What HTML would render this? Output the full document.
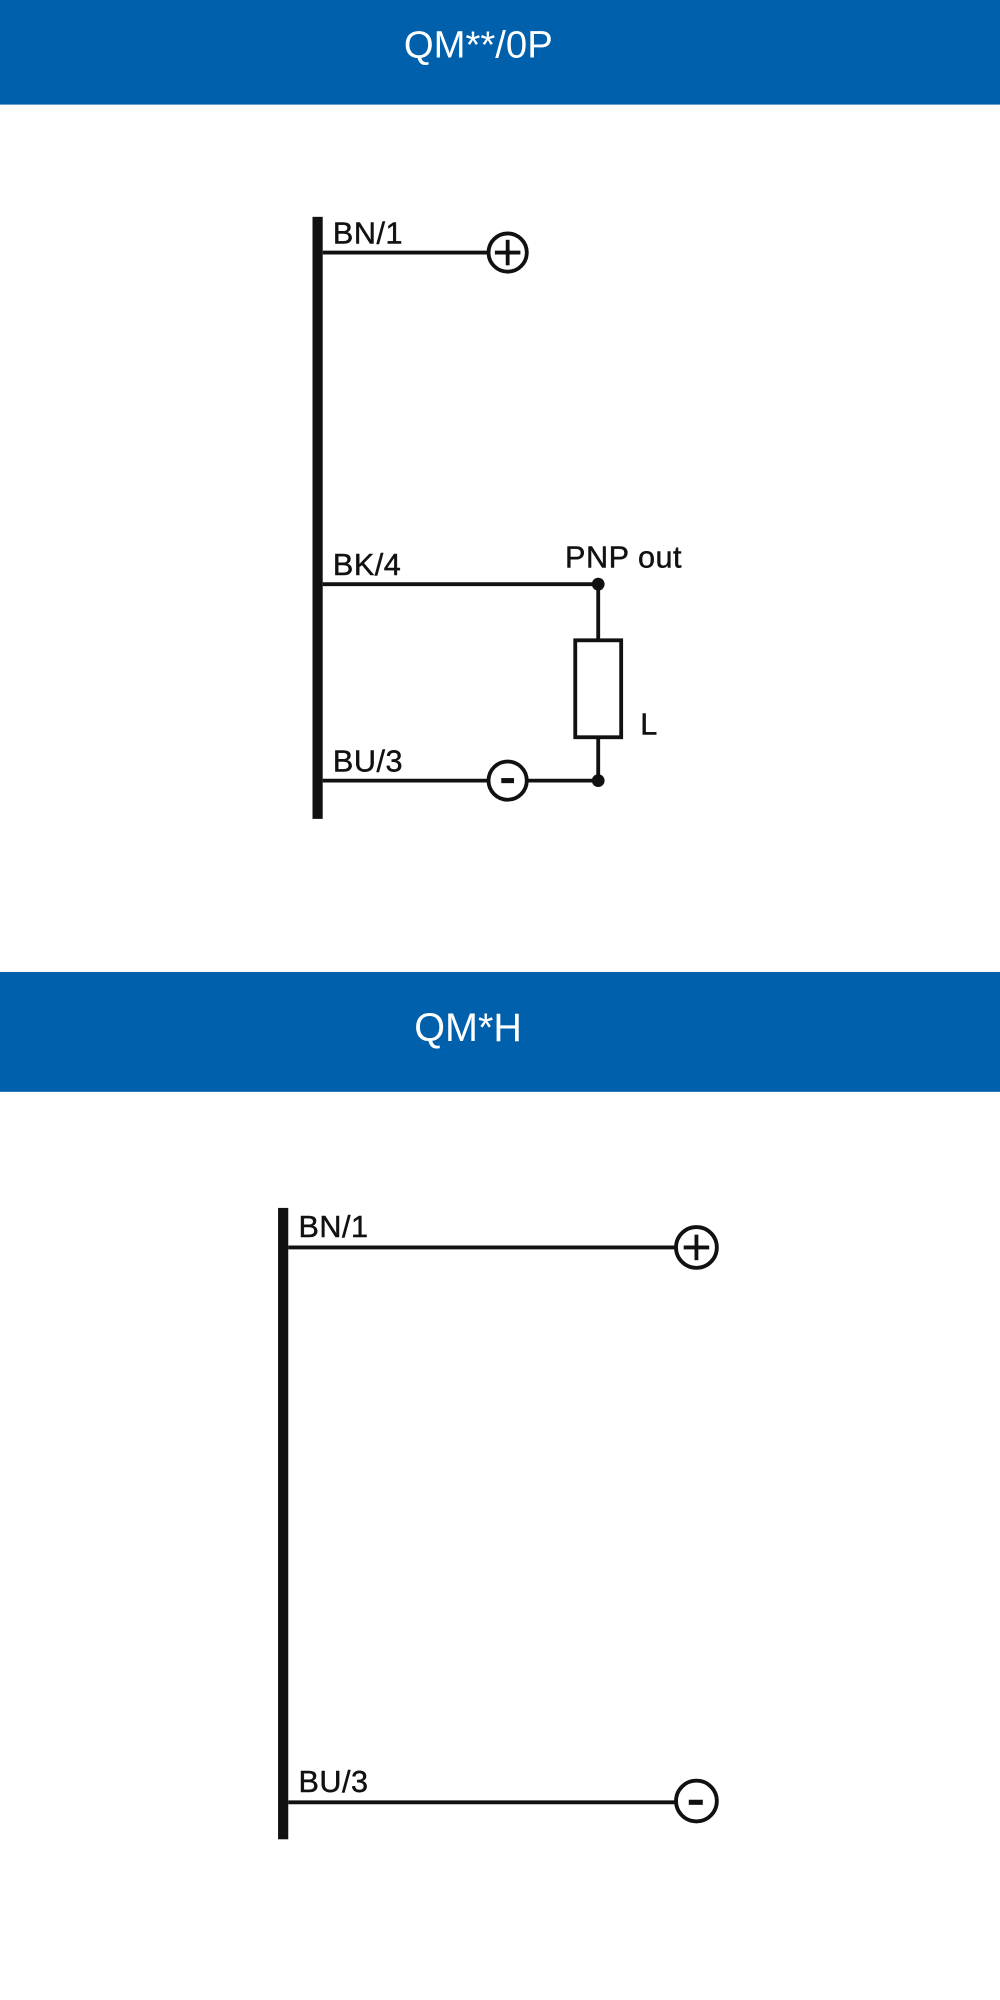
<!DOCTYPE html>
<html><head><meta charset="utf-8"><style>
html,body{margin:0;padding:0;background:#fff;}
svg{display:block;}
text{font-family:"Liberation Sans",Arial,sans-serif;fill:#111;}
.l{font-size:24px;letter-spacing:0.4px;stroke:#111;stroke-width:0.35;}
</style></head><body>
<svg width="1000" height="2000" viewBox="0 0 784 1568" xmlns="http://www.w3.org/2000/svg">
<rect x="0" y="0" width="784" height="82" fill="#0060ac"/>
<text x="375" y="45" font-size="30" text-anchor="middle" style="fill:#fff">QM**/0P</text>
<rect x="0" y="762" width="784" height="94" fill="#0060ac"/>
<text x="367" y="816" font-size="31" text-anchor="middle" style="fill:#fff">QM*H</text>

<g stroke="#111" fill="none" stroke-width="3">
<rect x="245" y="170" width="8" height="472" fill="#111" stroke="none"/>
<line x1="253" y1="198" x2="383" y2="198"/>
<circle cx="398" cy="198" r="15"/>
<line x1="388" y1="198" x2="408" y2="198"/>
<line x1="398" y1="188" x2="398" y2="208"/>
<line x1="253" y1="458" x2="469" y2="458"/>
<line x1="469" y1="458" x2="469" y2="502"/>
<rect x="451" y="502" width="36" height="76"/>
<line x1="469" y1="578" x2="469" y2="612"/>
<line x1="253" y1="612" x2="383" y2="612"/>
<circle cx="398" cy="612" r="15"/>
<line x1="413" y1="612" x2="469" y2="612"/>
<line x1="393" y1="612" x2="403" y2="612" stroke-width="4"/>
<rect x="218" y="947" width="8" height="495" fill="#111" stroke="none"/>
<line x1="226" y1="978" x2="530" y2="978"/>
<circle cx="546" cy="978" r="16"/>
<line x1="536" y1="978" x2="556" y2="978"/>
<line x1="546" y1="968" x2="546" y2="988"/>
<line x1="226" y1="1413" x2="530" y2="1413"/>
<circle cx="546" cy="1412" r="16"/>
<line x1="540" y1="1413" x2="551" y2="1413" stroke-width="4"/>
</g>
<circle cx="469" cy="458" r="5" fill="#111"/>
<circle cx="469" cy="612" r="5" fill="#111"/>

<text class="l" x="261" y="191">BN/1</text>
<text class="l" x="261" y="451">BK/4</text>
<text class="l" x="443" y="445">PNP out</text>
<text class="l" x="502" y="576">L</text>
<text class="l" x="261" y="605">BU/3</text>
<text class="l" x="234" y="970">BN/1</text>
<text class="l" x="234" y="1405">BU/3</text>
</svg>
</body></html>
